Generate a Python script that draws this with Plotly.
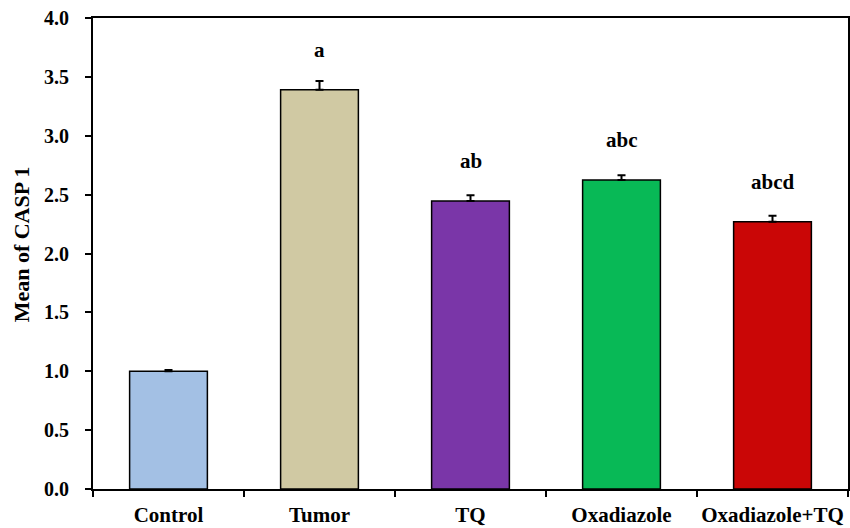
import plotly.graph_objects as go

categories = ["Control", "Tumor", "TQ", "Oxadiazole", "Oxadiazole+TQ"]
means = [1.00, 3.39, 2.445, 2.625, 2.27]
errors = [0.01, 0.075, 0.05, 0.04, 0.05]
letters = ["", "a", "ab", "abc", "abcd"]
colors = ["#A3C0E4", "#D0C9A3", "#7A36A8", "#08B956", "#CA0606"]
yticks = [0, 0.5, 1.0, 1.5, 2.0, 2.5, 3.0, 3.5, 4.0]
y_title = "Mean of CASP 1"

FONT = "Liberation Serif"

fig = go.Figure()
fig.add_trace(go.Bar(
    x=categories, y=means, width=0.515,
    marker=dict(color=colors, line=dict(color="black", width=1.5)),
    error_y=dict(type="data", array=errors, arrayminus=[0] * len(errors),
                 symmetric=False, visible=True, color="black",
                 thickness=2, width=4),
    showlegend=False,
))

for c, m, lab in zip(categories, means, letters):
    if lab:
        fig.add_annotation(x=c, y=m, text="<b>%s</b>" % lab, showarrow=False,
                           yshift=40, font=dict(family=FONT, size=21, color="black"))

fig.add_annotation(text="<b>%s</b>" % y_title, xref="paper", yref="paper",
                   x=-0.095, y=0.52, textangle=-90, showarrow=False,
                   xanchor="center", yanchor="middle",
                   font=dict(family=FONT, size=22, color="black"))

fig.update_layout(
    width=850, height=528,
    margin=dict(l=93, r=2, t=18, b=39),
    plot_bgcolor="white", paper_bgcolor="white",
    font=dict(family=FONT, color="black"),
)
fig.update_xaxes(
    showline=True, linecolor="black", linewidth=2, mirror=True,
    ticks="outside", ticklen=6, tickwidth=2, tickcolor="black",
    tickson="boundaries", showgrid=False,
    tickfont=dict(family=FONT, size=21, color="black"),
    tickvals=categories, ticktext=["<b>%s</b>" % c for c in categories],
    tickangle=0, automargin=False,
    ticklabelstandoff=6,
)
fig.update_yaxes(
    range=[0, 4],
    showline=True, linecolor="black", linewidth=2, mirror=True,
    ticks="outside", ticklen=6, tickwidth=2, tickcolor="black",
    showgrid=False, zeroline=False, automargin=False,
    tickvals=yticks,
    ticktext=["<b>%.1f</b>" % v for v in yticks],
    tickfont=dict(family=FONT, size=20, color="black"),
    ticklabelstandoff=12,
)

fig.write_html("out.html")
